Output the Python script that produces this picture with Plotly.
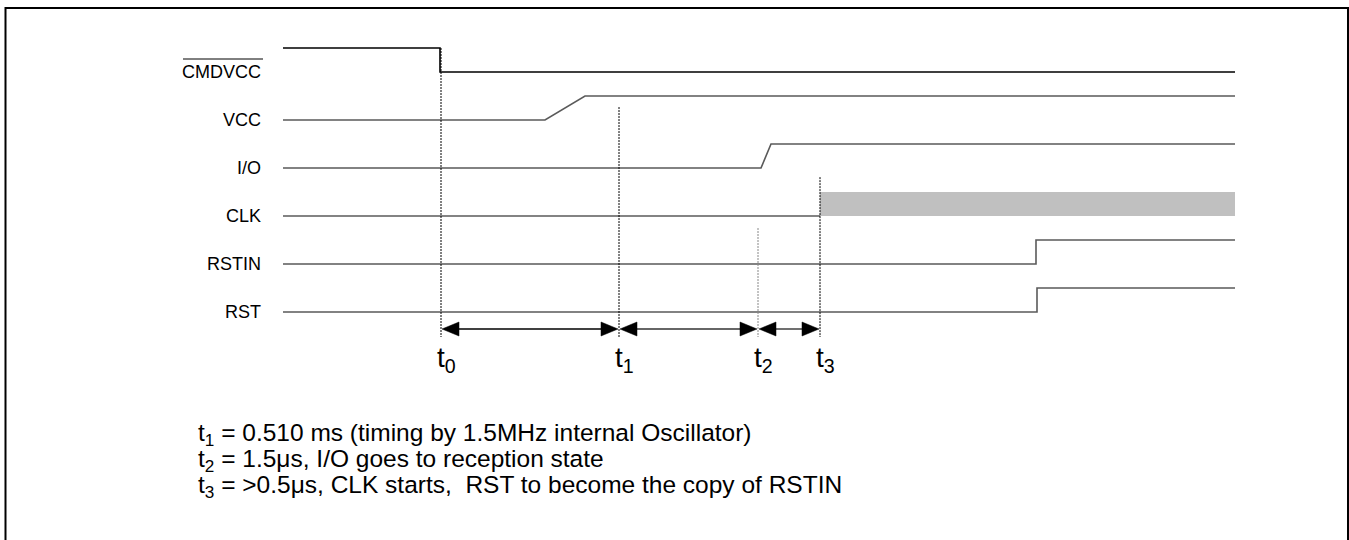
import plotly.graph_objects as go

# ---------------- data ----------------
signals = ["CMDVCC", "VCC", "I/O", "CLK", "RSTIN", "RST"]
# waveform breakpoints (diagram time units) and logic levels (0 = low, 1 = high)
cmdvcc_t = [283, 440, 440, 1235]
cmdvcc_lvl = [1, 1, 0, 0]
vcc_t = [283, 545, 585, 1235]
vcc_lvl = [0, 0, 1, 1]
io_t = [283, 761, 771, 1235]
io_lvl = [0, 0, 1, 1]
clk_t = [283, 820]
clk_lvl = [0, 0]
clk_running = [820, 1235]          # clock active region (shaded)
rstin_t = [283, 1036, 1036, 1235]
rstin_lvl = [0, 0, 1, 1]
rst_t = [283, 1037, 1037, 1235]
rst_lvl = [0, 0, 1, 1]

marker_names = ["0", "1", "2", "3"]
marker_t = [441, 619, 758, 820]
marker_top_row = [-0.5, 0.73, 3.25, 2.19]   # row where each marker line starts

notes = [
    "t<sub>1</sub> = 0.510 ms (timing by 1.5MHz internal Oscillator)",
    "t<sub>2</sub> = 1.5\u03bcs, I/O goes to reception state",
    "t<sub>3</sub> = >0.5\u03bcs, CLK starts,  RST to become the copy of RSTIN",
]

# ---------------- helpers ----------------
W, H = 1349, 540
ROW = 48.0          # px per row
TOP = 72.0          # px of first row baseline
HIGH = 0.5          # high level offset in rows
FONT = "Liberation Sans, Arial, sans-serif"


def py(px):
    return (px - TOP) / ROW


def lvl_y(row, lvls):
    return [row - HIGH * v for v in lvls]


fig = go.Figure()

waves = [(cmdvcc_t, cmdvcc_lvl, "#000000"), (vcc_t, vcc_lvl, "#5a5a5a"),
         (io_t, io_lvl, "#5a5a5a"), (clk_t, clk_lvl, "#5a5a5a"),
         (rstin_t, rstin_lvl, "#5a5a5a"), (rst_t, rst_lvl, "#5a5a5a")]

# shaded clock region
clk_row = signals.index("CLK")
fig.add_trace(go.Scatter(
    x=[clk_running[0], clk_running[1], clk_running[1], clk_running[0], clk_running[0]],
    y=[clk_row, clk_row, clk_row - HIGH, clk_row - HIGH, clk_row],
    fill="toself", fillcolor="#c0c0c0", line=dict(width=0), mode="lines",
    hoverinfo="skip", showlegend=False))

for i, (t, l, c) in enumerate(waves):
    fig.add_trace(go.Scatter(x=t, y=lvl_y(i, l), mode="lines",
                             line=dict(color=c, width=1.6), hoverinfo="skip",
                             showlegend=False))

# marker (dotted) lines
bottom = py(337)
for k, (mt, top) in enumerate(zip(marker_t, marker_top_row)):
    fig.add_trace(go.Scatter(x=[mt, mt], y=[top, bottom], mode="lines",
                             line=dict(color="#888888" if k == 2 else "#000000",
                                       width=1, dash="2px,1px"),
                             hoverinfo="skip", showlegend=False))

# double arrows between markers
ay = py(329)
HL = 17      # head length px
HH = 7       # half height px
hh = HH / ROW
for k in range(len(marker_t) - 1):
    a, b = marker_t[k] + 1, marker_t[k + 1] - 1
    col = "#000000" if k == 0 else "#333333"
    fig.add_trace(go.Scatter(x=[a + HL, b - HL], y=[ay, ay], mode="lines",
                             line=dict(color=col, width=1.4), hoverinfo="skip",
                             showlegend=False))
    for tip, base in ((a, a + HL), (b, b - HL)):
        fig.add_trace(go.Scatter(x=[tip, base, base, tip], y=[ay, ay - hh, ay + hh, ay],
                                 fill="toself", fillcolor="#000000", mode="lines",
                                 line=dict(color="#000000", width=0.5),
                                 hoverinfo="skip", showlegend=False))

# signal names
label_right = 263
for i, s in enumerate(signals):
    fig.add_annotation(x=label_right, y=i + 0.01, text=s, showarrow=False,
                       xanchor="right", yanchor="middle",
                       font=dict(family=FONT, size=18, color="#000000"))
# overline on CMDVCC
fig.add_trace(go.Scatter(x=[183, 263], y=[py(59), py(59)], mode="lines",
                         line=dict(color="#000000", width=1), hoverinfo="skip",
                         showlegend=False))

# marker labels
for n, mt in zip(marker_names, marker_t):
    fig.add_annotation(x=mt - 6, y=py(359), text="t<sub>%s</sub>" % n,
                       showarrow=False, xanchor="left", yanchor="middle",
                       font=dict(family=FONT, size=28, color="#000000"))

# notes
for j, txt in enumerate(notes):
    fig.add_annotation(x=196, y=py(434 + 26 * j), text=txt, showarrow=False,
                       xanchor="left", yanchor="middle",
                       font=dict(family=FONT, size=24.5, color="#000000"))

# outer frame
fig.add_shape(type="rect", xref="paper", yref="paper",
              x0=5.5 / W, x1=1348 / W, y0=-0.02, y1=1 - 8 / H,
              line=dict(color="#000000", width=2))

fig.update_xaxes(range=[0, W], visible=False, fixedrange=True)
fig.update_yaxes(range=[py(H), py(0)], visible=False, fixedrange=True)
fig.update_layout(width=W, height=H, margin=dict(l=0, r=0, t=0, b=0),
                  paper_bgcolor="white", plot_bgcolor="white", showlegend=False)

fig.write_html("out.html", config={"displayModeBar": False},
               post_script="document.body.style.margin='0';")
